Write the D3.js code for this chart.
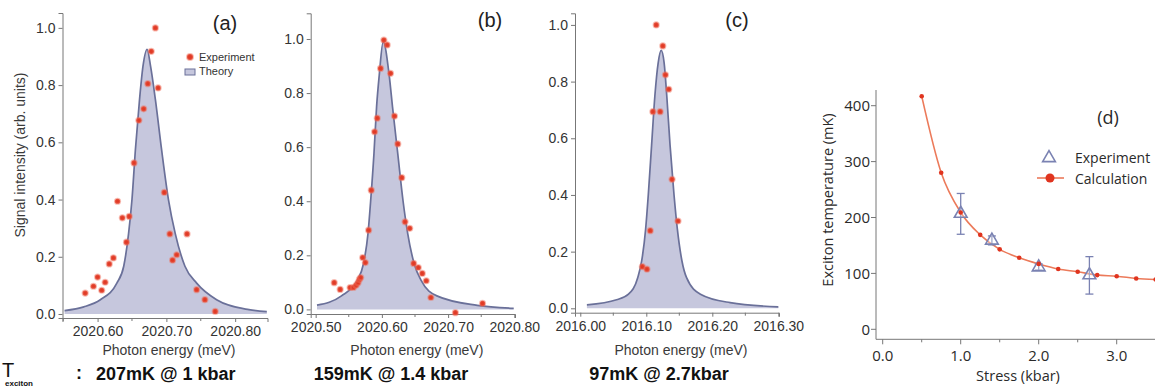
<!DOCTYPE html>
<html>
<head>
<meta charset="utf-8">
<script src="https://cdn.jsdelivr.net/npm/d3@7"></script>
<style>
  body { margin: 0; background: #fff; }
  svg { display: block; }
  .sp text { font-family: "Liberation Sans", Arial, sans-serif; }
  .ax path, .ax line { stroke: #777; }
  .ax text { fill: #333; font-size: 14px; }
  .dd text { font-family: "Open Sans", Lato, sans-serif; fill: #2a2a2a; }
</style>
</head>
<body>
<div id="chart"></div>
<script>
'use strict';

// panel (a) : 207mK @ 1 kbar
const aExpX = [2020.582, 2020.594, 2020.600, 2020.606, 2020.611, 2020.617, 2020.623, 2020.629, 2020.636, 2020.642, 2020.646, 2020.653, 2020.660, 2020.667, 2020.673, 2020.678, 2020.684, 2020.697, 2020.705, 2020.709, 2020.715, 2020.730, 2020.744, 2020.756, 2020.771, 2020.688];
const aExpY = [0.073, 0.097, 0.129, 0.083, 0.111, 0.175, 0.196, 0.394, 0.336, 0.251, 0.341, 0.528, 0.677, 0.717, 0.805, 0.918, 1.0, 0.425, 0.280, 0.188, 0.207, 0.280, 0.085, 0.050, 0.009, 0.790];
const aTheoryX = [2020.552, 2020.580, 2020.604, 2020.628, 2020.638, 2020.645, 2020.650, 2020.655, 2020.661, 2020.666, 2020.672, 2020.677, 2020.684, 2020.693, 2020.703, 2020.713, 2020.727, 2020.744, 2020.773, 2020.820, 2020.846];
const aTheoryY = [0.012, 0.025, 0.05, 0.108, 0.167, 0.28, 0.40, 0.575, 0.75, 0.866, 0.925, 0.866, 0.75, 0.575, 0.40, 0.28, 0.167, 0.108, 0.05, 0.015, 0.008];
const aTicks = [2020.60, 2020.70, 2020.80];

// panel (b) : 159mK @ 1.4 kbar
const bExpX = [2020.528, 2020.537, 2020.552, 2020.557, 2020.561, 2020.564, 2020.566, 2020.568, 2020.571, 2020.575, 2020.580, 2020.584, 2020.589, 2020.593, 2020.598, 2020.603, 2020.608, 2020.613, 2020.619, 2020.624, 2020.630, 2020.635, 2020.642, 2020.648, 2020.655, 2020.661, 2020.667, 2020.674, 2020.711, 2020.752];
const bExpY = [0.099, 0.074, 0.081, 0.081, 0.089, 0.099, 0.111, 0.118, 0.192, 0.173, 0.293, 0.441, 0.657, 0.707, 0.891, 0.996, 0.978, 0.873, 0.715, 0.612, 0.487, 0.324, 0.300, 0.170, 0.155, 0.133, 0.106, 0.044, -0.012, 0.022];
const bTheoryX = [2020.502, 2020.539, 2020.563, 2020.572, 2020.579, 2020.583, 2020.588, 2020.592, 2020.596, 2020.602, 2020.611, 2020.616, 2020.624, 2020.632, 2020.639, 2020.649, 2020.659, 2020.683, 2020.744, 2020.799];
const bTheoryY = [0.016, 0.05, 0.108, 0.167, 0.28, 0.40, 0.575, 0.75, 0.866, 0.99, 0.866, 0.75, 0.575, 0.40, 0.28, 0.167, 0.108, 0.05, 0.015, 0.004];
const bTicks = [2020.50, 2020.60, 2020.70, 2020.80];

// panel (c) : 97mK @ 2.7 kbar
const cExpX = [2016.094, 2016.101, 2016.106, 2016.110, 2016.115, 2016.121, 2016.125, 2016.129, 2016.134, 2016.139, 2016.148];
const cExpY = [0.147, 0.138, 0.274, 0.694, 1.0, 0.694, 0.926, 0.824, 0.773, 0.455, 0.308];
const cTheoryX = [2016.010, 2016.055, 2016.073, 2016.087, 2016.093, 2016.099, 2016.103, 2016.108, 2016.113, 2016.118, 2016.1225, 2016.127, 2016.131, 2016.136, 2016.142, 2016.147, 2016.154, 2016.161, 2016.182, 2016.227, 2016.300];
const cTheoryY = [0.012, 0.03, 0.05, 0.108, 0.167, 0.28, 0.40, 0.575, 0.75, 0.866, 0.91, 0.866, 0.75, 0.575, 0.40, 0.28, 0.167, 0.108, 0.05, 0.02, 0.005];
const cTicks = [2016.00, 2016.10, 2016.20, 2016.30];

const yTicks = [0, 0.2, 0.4, 0.6, 0.8, 1.0];

// panel (d) : exciton temperature vs stress
const calcStress = [0.5, 0.75, 1.0, 1.25, 1.5, 1.75, 2.0, 2.25, 2.5, 2.75, 3.0, 3.25, 3.5];
const calcTemp = [417, 280, 209, 169, 143, 128, 117, 108, 103, 97, 95, 91, 89];
const expStress = [1.0, 1.4, 2.0, 2.65];
const expTemp = [207, 159, 111, 97];
const expErrLow = [170, 151, 106, 63];
const expErrHigh = [243, 167, 117, 130];
const dTicksX = [0, 1, 2, 3];
const dTicksY = [0, 100, 200, 300, 400];

const svg = d3.select('#chart').append('svg')
    .attr('width', 1155)
    .attr('height', 387);

function spectrum(opt) {
  const g = svg.append('g').attr('class', 'sp');

  const x = d3.scaleLinear().domain(opt.xDom).range(opt.xRange);
  const y = d3.scaleLinear().domain(opt.yDom).range(opt.yRange);

  const pts = opt.tx.map((v, i) => [v, opt.ty[i]]);
  const area = d3.area()
      .x(d => x(d[0])).y0(y(0)).y1(d => y(d[1]))
      .curve(d3.curveMonotoneX);
  const line = d3.line()
      .x(d => x(d[0])).y(d => y(d[1]))
      .curve(d3.curveMonotoneX);

  g.append('path').datum(pts)
      .attr('d', area)
      .attr('fill', '#c6c7dd');
  g.append('path').datum(pts)
      .attr('d', line)
      .attr('fill', 'none')
      .attr('stroke', '#6a7099')
      .attr('stroke-width', 1.7);

  // minor ticks half way between the labelled ones
  const minor = opt.ticks.map(v => v - 0.05);
  minor.push(opt.ticks[opt.ticks.length - 1] + 0.05);

  const xa = g.append('g').attr('class', 'ax')
      .attr('transform', `translate(0,${opt.yRange[0]})`)
      .call(d3.axisBottom(x).tickValues(opt.ticks).tickFormat(d3.format('.2f')).tickSizeOuter(0).tickSize(4).tickPadding(4));
  xa.selectAll('.minor').data(minor.filter(v => x(v) >= opt.xRange[0] && x(v) <= opt.xRange[1] + 1))
    .enter().append('line')
      .attr('class', 'minor')
      .attr('x1', d => x(d)).attr('x2', d => x(d))
      .attr('y1', 0).attr('y2', 3)
      .attr('stroke', '#777');

  g.append('g').attr('class', 'ax')
      .attr('transform', `translate(${opt.xRange[0]},0)`)
      .call(d3.axisLeft(y).tickValues(yTicks).tickFormat(d3.format('.1f')).tickSizeOuter(0).tickSize(4).tickPadding(3));

  g.selectAll('.pt')
      .data(opt.ex.map((v, i) => [v, opt.ey[i]]))
    .enter().append('circle')
      .attr('class', 'pt')
      .attr('cx', d => x(d[0]))
      .attr('cy', d => y(d[1]))
      .attr('r', 2.6)
      .attr('fill', '#e03a26')
      .attr('stroke', 'rgba(240,110,90,0.45)')
      .attr('stroke-width', 2);

  g.append('text')
      .attr('x', opt.tag[0]).attr('y', opt.tag[1])
      .attr('text-anchor', 'middle')
      .style('font-size', '20px').style('fill', '#222')
      .text(opt.label);

  g.append('text')
      .attr('x', (opt.xRange[0] + opt.xRange[1]) / 2 + 4).attr('y', 355)
      .attr('text-anchor', 'middle')
      .style('font-size', '14px').style('fill', '#3a3a3a')
      .text('Photon energy (meV)');

  g.append('text')
      .attr('x', opt.cap[0]).attr('y', 380)
      .attr('text-anchor', opt.cap[1])
      .style('font-size', '18px').style('font-weight', 'bold').style('fill', '#111')
      .text(opt.caption);

  return g;
}

const ga = spectrum({
  xDom: [2020.549, 2020.847], xRange: [62.5, 267.5],
  yDom: [-0.014, 1.052], yRange: [318, 13],
  tx: aTheoryX, ty: aTheoryY, ex: aExpX, ey: aExpY, ticks: aTicks,
  label: '(a)', tag: [225, 30], caption: '207mK @ 1 kbar', cap: [96, 'start']
});
spectrum({
  xDom: [2020.4925, 2020.801], xRange: [310.7, 515],
  yDom: [-0.017, 1.095], yRange: [314, 13.3],
  tx: bTheoryX, ty: bTheoryY, ex: bExpX, ey: bExpY, ticks: bTicks,
  label: '(b)', tag: [490, 27], caption: '159mK @ 1.4 kbar', cap: [391, 'middle']
});
spectrum({
  xDom: [2015.992, 2016.301], xRange: [575, 779],
  yDom: [-0.0155, 1.041], yRange: [312.7, 13.3],
  tx: cTheoryX, ty: cTheoryY, ex: cExpX, ey: cExpY, ticks: cTicks,
  label: '(c)', tag: [737, 27], caption: '97mK @ 2.7kbar', cap: [659, 'middle']
});

// y label + legend for (a)
ga.append('text')
    .attr('transform', 'translate(25,155) rotate(-90)')
    .attr('text-anchor', 'middle')
    .style('font-size', '14px').style('fill', '#3a3a3a')
    .text('Signal intensity (arb. units)');
ga.append('circle').attr('cx', 190).attr('cy', 57).attr('r', 3)
    .attr('fill', '#e03a26').attr('stroke', 'rgba(240,110,90,0.45)').attr('stroke-width', 2);
ga.append('rect').attr('x', 185).attr('y', 69).attr('width', 10).attr('height', 6)
    .attr('fill', '#c6c7dd').attr('stroke', '#6a7099');
ga.append('text').attr('x', 199).attr('y', 61)
    .style('font-size', '11px').style('fill', '#333').text('Experiment');
ga.append('text').attr('x', 199).attr('y', 75)
    .style('font-size', '11px').style('fill', '#333').text('Theory');

// T_exciton label
const tl = svg.append('g').attr('class', 'sp');
tl.append('text').attr('x', 2).attr('y', 377)
    .style('font-size', '20px').style('fill', '#111').text('T');
tl.append('text').attr('x', 5).attr('y', 385.5)
    .style('font-size', '8px').style('font-weight', 'bold').style('fill', '#111').text('exciton');
tl.append('text').attr('x', 76).attr('y', 379)
    .style('font-size', '18px').style('font-weight', 'bold').style('fill', '#111').text(':');

// panel (d)
const gd = svg.append('g').attr('class', 'dd');
const dx = d3.scaleLinear().domain([0, 3]).range([882.7, 1116.7]);
const dy = d3.scaleLinear().domain([0, 400]).range([329.3, 105.7]);
const dLeft = 876, dBottom = 339.3;

const dxa = gd.append('g').attr('class', 'ax')
    .attr('transform', `translate(0,${dBottom})`);
dxa.append('line').attr('x1', dLeft).attr('x2', 1160).attr('stroke', '#666');
dxa.selectAll('.maj').data(dTicksX).enter().append('line')
    .attr('x1', d => dx(d)).attr('x2', d => dx(d)).attr('y1', 0).attr('y2', 5).attr('stroke', '#666');
dxa.selectAll('.mn').data(dTicksX.map(v => v + 0.5)).enter().append('line')
    .attr('x1', d => dx(d)).attr('x2', d => dx(d)).attr('y1', 0).attr('y2', 3).attr('stroke', '#666');
dxa.selectAll('text').data(dTicksX).enter().append('text')
    .attr('x', d => dx(d)).attr('y', 22)
    .attr('text-anchor', 'middle')
    .style('font-size', '15px')
    .text(d3.format('.1f'));

const dya = gd.append('g').attr('class', 'ax')
    .attr('transform', `translate(${dLeft},0)`);
dya.append('line').attr('y1', 90).attr('y2', dBottom).attr('stroke', '#666');
dya.selectAll('line.t').data(dTicksY).enter().append('line')
    .attr('class', 't')
    .attr('x1', -5).attr('x2', 0).attr('y1', d => dy(d)).attr('y2', d => dy(d)).attr('stroke', '#666');
dya.selectAll('text').data(dTicksY).enter().append('text')
    .attr('x', -6).attr('y', d => dy(d) + 5.5)
    .attr('text-anchor', 'end')
    .style('font-size', '15px')
    .text(d => d);

gd.append('text')
    .attr('transform', 'translate(833,200) rotate(-90)')
    .attr('text-anchor', 'middle')
    .style('font-size', '14.5px')
    .text('Exciton temperature (mK)');
gd.append('text')
    .attr('x', 1018).attr('y', 381)
    .attr('text-anchor', 'middle')
    .style('font-size', '14.5px')
    .text('Stress (kbar)');
gd.append('text')
    .attr('x', 1108).attr('y', 124)
    .attr('text-anchor', 'middle')
    .style('font-size', '18px')
    .text('(d)');

const calc = calcStress.map((v, i) => [v, calcTemp[i]]);
gd.append('path').datum(calc)
    .attr('d', d3.line().x(d => dx(d[0])).y(d => dy(d[1])).curve(d3.curveMonotoneX))
    .attr('fill', 'none')
    .attr('stroke', '#ec7a5a')
    .attr('stroke-width', 1.6);

const tri = d3.symbol().type(d3.symbolTriangle).size(70);
const exp = expStress.map((v, i) => ({ x: v, t: expTemp[i], lo: expErrLow[i], hi: expErrHigh[i] }));
const eb = gd.selectAll('.eb').data(exp).enter().append('g').attr('class', 'eb');
eb.append('line')
    .attr('x1', d => dx(d.x)).attr('x2', d => dx(d.x))
    .attr('y1', d => dy(d.lo)).attr('y2', d => dy(d.hi))
    .attr('stroke', '#7a82b2').attr('stroke-width', 1.3);
eb.append('line')
    .attr('x1', d => dx(d.x) - 4).attr('x2', d => dx(d.x) + 4)
    .attr('y1', d => dy(d.lo)).attr('y2', d => dy(d.lo))
    .attr('stroke', '#7a82b2').attr('stroke-width', 1.3);
eb.append('line')
    .attr('x1', d => dx(d.x) - 4).attr('x2', d => dx(d.x) + 4)
    .attr('y1', d => dy(d.hi)).attr('y2', d => dy(d.hi))
    .attr('stroke', '#7a82b2').attr('stroke-width', 1.3);
eb.append('path')
    .attr('d', tri)
    .attr('transform', d => `translate(${dx(d.x)},${dy(d.t)})`)
    .attr('fill', 'rgba(255,255,255,0.3)')
    .attr('stroke', '#7a82b2').attr('stroke-width', 1.6);

gd.selectAll('.cp').data(calc).enter().append('circle')
    .attr('class', 'cp')
    .attr('cx', d => dx(d[0])).attr('cy', d => dy(d[1]))
    .attr('r', 2.3)
    .attr('fill', '#e0341f');

// legend (d)
gd.append('path').attr('d', tri).attr('transform', 'translate(1049,158)')
    .attr('fill', 'none').attr('stroke', '#7a82b2').attr('stroke-width', 1.6);
gd.append('text').attr('x', 1075).attr('y', 163).style('font-size', '14px').text('Experiment');
gd.append('line').attr('x1', 1037).attr('x2', 1064).attr('y1', 178).attr('y2', 178)
    .attr('stroke', '#ec7a5a').attr('stroke-width', 1.6);
gd.append('circle').attr('cx', 1050).attr('cy', 178).attr('r', 4.5).attr('fill', '#e0341f');
gd.append('text').attr('x', 1075).attr('y', 184).style('font-size', '14px').text('Calculation');
</script>
</body>
</html>
